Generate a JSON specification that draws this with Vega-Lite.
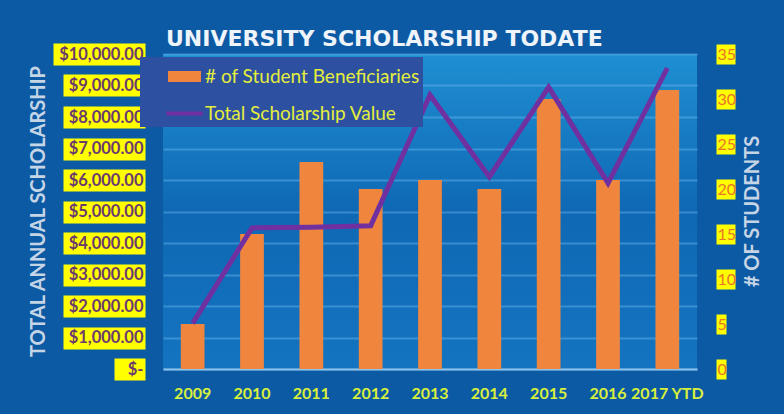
{
  "$schema": "https://vega.github.io/schema/vega-lite/v6.json",
  "width": 534,
  "height": 315,
  "autosize": {"type": "none"},
  "padding": {"left": 163, "top": 54, "right": 87, "bottom": 45},
  "background": "#0d5aa4",
  "title": {
    "text": "UNIVERSITY SCHOLARSHIP TODATE",
    "font": "DejaVu Sans",
    "fontSize": 22,
    "fontWeight": "bold",
    "color": "#eef4fa",
    "anchor": "start",
    "frame": "group",
    "dx": 3,
    "dy": 33,
    "offset": 8,
    "baseline": "alphabetic"
  },
  "config": {
    "view": {
      "stroke": null,
      "fill": {
        "gradient": "linear",
        "x1": 0, "y1": 0, "x2": 0, "y2": 1,
        "stops": [
          {"offset": 0, "color": "#1f8fd2"},
          {"offset": 0.5, "color": "#0f68b4"},
          {"offset": 1, "color": "#1474c0"}
        ]
      }
    }
  },
  "data": {
    "values": [
      {"year": "2009", "students": 5, "value": 1450},
      {"year": "2010", "students": 15, "value": 4480},
      {"year": "2011", "students": 23, "value": 4500},
      {"year": "2012", "students": 20, "value": 4550},
      {"year": "2013", "students": 21, "value": 8700},
      {"year": "2014", "students": 20, "value": 6100},
      {"year": "2015", "students": 30, "value": 8950},
      {"year": "2016", "students": 21, "value": 5900},
      {"year": "2017 YTD", "students": 31, "value": 9550}
    ]
  },
  "encoding": {
    "x": {
      "field": "year",
      "type": "nominal",
      "sort": null,
      "scale": {"paddingInner": 0.6, "paddingOuter": 0.3},
      "axis": {
        "title": null,
        "labelAngle": 0,
        "ticks": false,
        "domain": true,
        "domainColor": "#8cc2ea",
        "domainWidth": 2,
        "labelPadding": 16,
        "labelFont": "Lato",
        "labelFontWeight": "bold",
        "labelFontSize": 16,
        "labelColor": "#d8f03c",
        "grid": false
      }
    }
  },
  "layer": [
    {
      "mark": {"type": "bar"},
      "encoding": {
        "y": {
          "field": "students",
          "type": "quantitative",
          "scale": {"domain": [0, 35], "nice": false},
          "axis": {
            "orient": "right",
            "values": [0, 5, 10, 15, 20, 25, 30, 35],
            "offset": 19,
            "domain": false,
            "grid": false,
            "tickColor": "#ffff00",
            "tickWidth": 20,
            "tickSize": {"condition": {"test": "datum.value < 10", "value": 10}, "value": 19},
            "labelPadding": {"condition": {"test": "datum.value < 10", "value": -9}, "value": -18},
            "labelAlign": "left",
            "labelBaseline": "middle",
            "labelFont": "Lato",
            "labelFontSize": 16,
            "labelColor": "#e8742a",
            "title": "# OF STUDENTS",
            "titleFont": "Lato",
            "titleFontWeight": "bold",
            "titleFontSize": 20,
            "titleColor": "#c5d5e6",
            "titleAngle": 270,
            "titleX": 36,
            "titleY": 157,
            "titleAlign": "center",
            "titleBaseline": "middle"
          }
        },
        "color": {
          "datum": "# of Student Beneficiaries",
          "type": "nominal",
          "scale": {
            "domain": ["# of Student Beneficiaries", "Total Scholarship Value"],
            "range": ["#f0853e", "#7030a0"]
          },
          "legend": {
            "title": null,
            "orient": "none",
            "legendX": -23,
            "legendY": 3,
            "fillColor": "#2d50a0",
            "padding": 3,
            "symbolOffset": 25,
            "symbolSize": 1089,
            "labelOffset": 4,
            "rowPadding": 10,
            "labelFont": "Lato",
            "labelFontSize": 19,
            "labelColor": "#e4ee3c",
            "labelLimit": 400,
            "encode": {
              "symbols": {
                "update": {
                  "shape": {"signal": "datum.value === 'Total Scholarship Value' ? 'M-1.1,-0.12H1.1V0.12H-1.1Z' : 'M-1,-0.33H1V0.33H-1Z'"},
                  "fill": {"signal": "datum.value === 'Total Scholarship Value' ? '#7030a0' : '#f0853e'"},
                  "stroke": {"value": "transparent"},
                  "strokeWidth": {"value": 0},
                  "opacity": {"value": 1}
                }
              }
            }
          }
        }
      }
    },
    {
      "mark": {"type": "line", "strokeWidth": 5},
      "encoding": {
        "y": {
          "field": "value",
          "type": "quantitative",
          "scale": {"domain": [0, 10000], "nice": false},
          "axis": {
            "orient": "left",
            "values": [0, 1000, 2000, 3000, 4000, 5000, 6000, 7000, 8000, 9000, 10000],
            "labelExpr": "datum.value === 0 ? '$-' : '$' + format(datum.value, ',.2f')",
            "offset": 18,
            "domain": false,
            "grid": true,
            "gridColor": "#6ab8ee",
            "gridOpacity": 0.45,
            "gridWidth": 2,
            "tickColor": "#ffff00",
            "tickWidth": 22,
            "tickSize": {"condition": [{"test": "datum.value === 0", "value": 31}, {"test": "datum.value >= 10000", "value": 92}], "value": 82},
            "labelPadding": {"condition": [{"test": "datum.value === 0", "value": -29}, {"test": "datum.value >= 10000", "value": -90}], "value": -80},
            "labelAlign": "right",
            "labelBaseline": "middle",
            "labelFont": "Lato",
            "labelFontWeight": "bold",
            "labelFontSize": 16.5,
            "labelColor": "#6b3a6e",
            "title": "TOTAL ANNUAL SCHOLARSHIP",
            "titleFont": "Lato",
            "titleFontWeight": "bold",
            "titleFontSize": 20,
            "titleColor": "#c5d5e6",
            "titleAngle": 270,
            "titleX": -107,
            "titleY": 157,
            "titleAlign": "center",
            "titleBaseline": "middle"
          }
        },
        "color": {"datum": "Total Scholarship Value", "type": "nominal"}
      }
    }
  ],
  "resolve": {"scale": {"y": "independent"}, "axis": {"y": "independent"}}
}
